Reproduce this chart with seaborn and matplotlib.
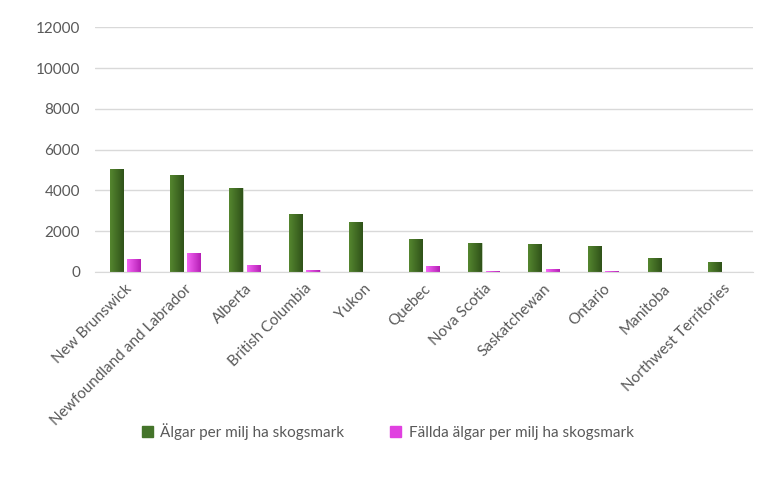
import numpy as np
import pandas as pd
import matplotlib.pyplot as plt
import seaborn as sns
from matplotlib.colors import LinearSegmentedColormap

provinces = ["New Brunswick", "Newfoundland and Labrador", "Alberta", "British Columbia",
             "Yukon", "Quebec", "Nova Scotia", "Saskatchewan", "Ontario", "Manitoba",
             "Northwest Territories"]
algar = [5050, 4750, 4130, 2840, 2470, 1620, 1400, 1390, 1275, 670, 475]
fallda = [640, 930, 340, 80, 0, 290, 40, 150, 30, 0, 0]
series = ["Älgar per milj ha skogsmark", "Fällda älgar per milj ha skogsmark"]

df = pd.DataFrame({
    "province": provinces * 2,
    "value": algar + fallda,
    "serie": [series[0]] * len(provinces) + [series[1]] * len(provinces),
})

sns.set_style("white")
plt.rcParams['font.family'] = ['Lato', 'DejaVu Sans']

fig = plt.figure(figsize=(7.68, 4.82), dpi=100)
ax = fig.add_axes([0.124, 0.436, 0.856, 0.507])

colors = {series[0]: "#44742a", series[1]: "#e040e0"}
sns.barplot(data=df, x="province", y="value", hue="serie", palette=colors,
            width=0.58, gap=0.24, ax=ax, legend=False)

# excel-like horizontal gradient on each bar
grads = {series[0]: ["#55862f", "#2f5219"], series[1]: ["#f565f5", "#b51fb5"]}
for cont, s in zip(ax.containers, series):
    cmap = LinearSegmentedColormap.from_list(s, grads[s])
    for p in cont.patches:
        x0, y0 = p.get_x(), p.get_y()
        w, h = p.get_width(), p.get_height()
        if h <= 0:
            continue
        p.set_edgecolor("#c8d6bf" if s == series[0] else "#f0b8f0")
        p.set_linewidth(0.6)
        im = ax.imshow(np.linspace(0, 1, 50).reshape(1, -1), cmap=cmap, aspect="auto",
                       extent=[x0, x0 + w, y0, y0 + h], zorder=p.get_zorder() + 0.1)
        im.set_clip_path(p)

ax.set_xlim(-0.5, len(provinces) - 0.5)
ax.set_ylim(0, 12000)
ax.set_yticks(range(0, 12001, 2000))
ax.grid(axis="y", color="#d9d9d9", linewidth=1)
ax.set_axisbelow(True)
for sp in ["top", "right", "left"]:
    ax.spines[sp].set_visible(False)
ax.spines["bottom"].set_color("#d9d9d9")
ax.tick_params(axis="both", length=0, labelsize=11, colors="#595959")
ax.tick_params(axis="y", pad=11)
ax.tick_params(axis="x", pad=7)
ax.set_xticks(range(len(provinces)))
ax.set_xticklabels(provinces, rotation=45, ha="right", rotation_mode="anchor")
ax.set_xlabel("")
ax.set_ylabel("")

handles = [plt.Rectangle((0, 0), 1, 1, color=colors[s]) for s in series]
fig.legend(handles, series, loc="center", bbox_to_anchor=(0.505, 0.105), ncol=2,
           frameon=False, fontsize=11, labelcolor="#595959", handlelength=0.7,
           handleheight=0.7, columnspacing=3.0, handletextpad=0.5)

fig.savefig("out.png", dpi=100)
